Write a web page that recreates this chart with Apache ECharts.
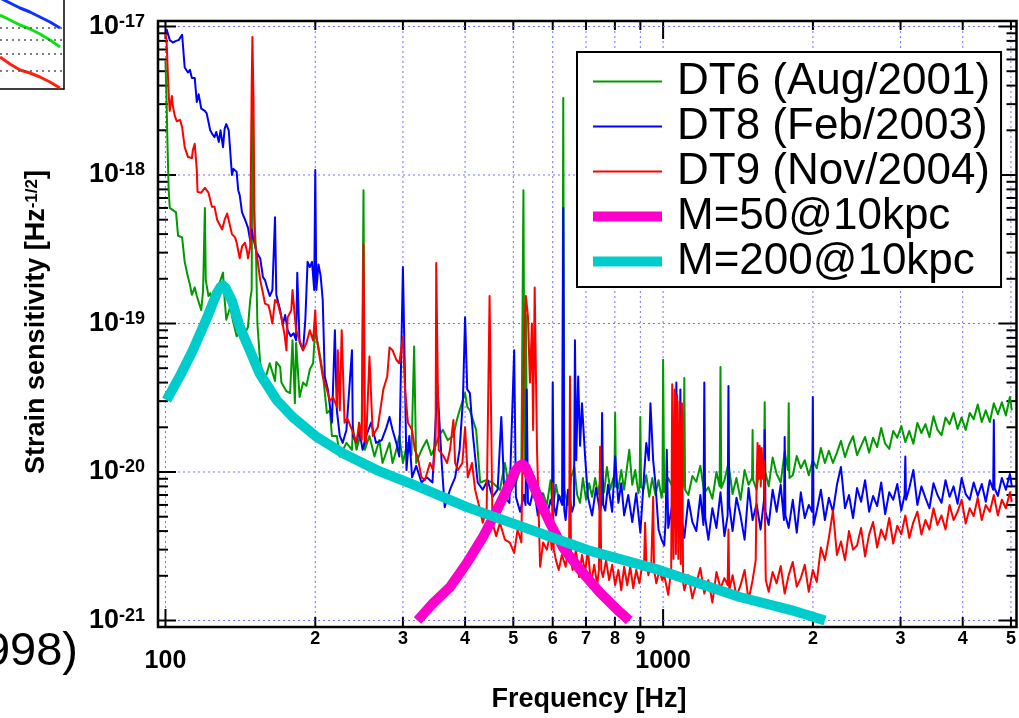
<!DOCTYPE html>
<html><head><meta charset="utf-8">
<script src="https://cdn.jsdelivr.net/npm/echarts@6/dist/echarts.min.js"></script>
<style>html,body{margin:0;padding:0;background:#fff}#c{width:1019px;height:718px}</style>
</head><body><div id="c"></div>
<script>
// ---------- data (frequency [Hz], strain [Hz^-1/2]) ----------
const dt6 = [[100,5.9e-18],[100.5,3.2e-18],[101,1.47e-18],[101.5,7.9e-19],[102,6.0e-19],[103.5,5.8e-19],[105,5.6e-19],[106,3.9e-19],[108,3.8e-19],[109.3,2.6e-19],[111,2.05e-19],[112,1.82e-19],[113,1.56e-19],[114.5,1.75e-19],[115.6,1.53e-19],[116.6,1.56e-19],[118,1.23e-19],[119,1.68e-19],[120,6.0e-19],[120.5,1.96e-19],[122,1.53e-19],[123,1.6e-19],[124.5,1.33e-19],[125.5,1.44e-19],[127,1.68e-19],[129,1.96e-19],[130.5,2.2e-19],[131.5,1.44e-19],[132.5,1.06e-19],[135,1.3e-19],[136.5,1.06e-19],[139,8.2e-20],[141,8.6e-20],[143,8.1e-20],[145,8.8e-20],[146.5,9.5e-20],[148,1.44e-19],[149,1.68e-19],[149.7,5.1e-18],[150.3,6.8e-19],[152,3.1e-19],[153,1.0e-19],[155,5.4e-20],[158.5,4.2e-20],[162,5.4e-20],[166,4.1e-20],[167,5.5e-20],[170,5.1e-20],[171,4.0e-20],[175,3.5e-20],[178,3.4e-20],[180,7.7e-20],[182,2.9e-20],[183,7.4e-20],[186,3.2e-20],[189,4.0e-20],[192,3.8e-20],[195,4.9e-20],[198,5.4e-20],[200,9.5e-20],[201,8.2e-20],[204,6.3e-20],[207,4.7e-20],[211,2.5e-20],[214,2.6e-20],[216,1.75e-20],[221,1.75e-20],[224,1.27e-20],[231,1.57e-20],[237,1.41e-20],[238,2.0e-20],[242,1.41e-20],[245,1.64e-20],[248,2.15e-20],[250,7.9e-19],[251.5,1.41e-20],[257,1.75e-20],[263,1.27e-20],[269,1.64e-20],[273,1.15e-20],[282,1.57e-20],[286,1.15e-20],[291,1.41e-20],[295,1.75e-20],[300,1.15e-20],[306,1.57e-20],[312,1.3e-20],[316,7.0e-20],[319,1.15e-20],[327,1.41e-20],[335,1.64e-20],[342,1.3e-20],[349,1.5e-20],[355,1.77e-20],[361,1.92e-20],[369,1.64e-20],[379,1.75e-20],[385,2.24e-20],[390,2.6e-20],[400,3.4e-20],[404,2.75e-20],[409,2.6e-20],[421,1.92e-20],[429,8.5e-21],[441,8.8e-21],[454,8.5e-21],[470,7.6e-21],[481,1.15e-20],[492,7.2e-21],[506,8.5e-21],[519,1.1e-20],[524,7.9e-19],[527,1.0e-20],[530,1.15e-19],[533,9.0e-21],[540,8.0e-21],[550,8.8e-21],[560,7.2e-21],[574,7.2e-21],[584,6.0e-21],[594,8.8e-21],[600,5.5e-21],[609,8.2e-21],[617,6.5e-21],[627,7.0e-21],[630,3.3e-18],[633,7.6e-21],[644,6.0e-21],[653,9.1e-21],[663,1.08e-20],[672,7.0e-21],[681,6.2e-21],[690,9.1e-21],[700,6.5e-21],[710,8.4e-21],[720,6.8e-21],[730,9.1e-21],[740,7.1e-21],[750,9.4e-21],[761,7.3e-21],[771,1.08e-20],[783,7.6e-21],[794,9.1e-21],[798,8.0e-21],[801,2.5e-20],[804,8.0e-21],[813,7.8e-21],[824,1.03e-20],[835,7.6e-21],[847,1.11e-20],[855,1.41e-20],[867,8.2e-21],[879,1.03e-20],[892,7.2e-21],[897,8.0e-21],[900,2.35e-20],[903,8.0e-21],[913,7.6e-21],[925,9.5e-21],[938,6.8e-21],[951,9.1e-21],[965,7.0e-21],[979,8.8e-21],[993,6.7e-21],[997,7.5e-21],[1000,5.7e-20],[1005,7.3e-21],[1024,9.1e-21],[1043,8.0e-21],[1063,1.03e-20],[1083,6.7e-21],[1099,8.3e-21],[1103,4.3e-20],[1107,7.6e-21],[1124,7.0e-21],[1145,9.4e-21],[1166,8.6e-21],[1188,1.1e-20],[1210,7.2e-21],[1233,7.9e-21],[1256,6.6e-21],[1280,1.0e-20],[1299,8.0e-21],[1304,5.1e-20],[1309,7.8e-21],[1328,8.8e-21],[1353,1.15e-20],[1379,7.1e-21],[1404,9.1e-21],[1431,6.5e-21],[1458,1.03e-20],[1485,8.2e-21],[1509,9.1e-21],[1513,1.92e-20],[1517,8.8e-21],[1541,7.6e-21],[1570,1.2e-20],[1595,9.4e-21],[1600,2.95e-20],[1605,1.0e-20],[1630,8.0e-21],[1660,1.25e-20],[1691,9.7e-21],[1723,8.5e-21],[1755,1.37e-20],[1782,1.03e-20],[1788,2.9e-20],[1794,9.1e-21],[1822,9.5e-21],[1856,1.28e-20],[1891,1.06e-20],[1926,1.2e-20],[1962,9.5e-21],[1999,1.2e-20],[2036,1.06e-20],[2075,1.45e-20],[2114,1.15e-20],[2153,1.39e-20],[2194,1.15e-20],[2235,1.35e-20],[2277,1.62e-20],[2320,1.26e-20],[2363,1.52e-20],[2408,1.74e-20],[2453,1.3e-20],[2499,1.5e-20],[2546,1.72e-20],[2594,1.35e-20],[2642,1.7e-20],[2692,1.47e-20],[2743,1.98e-20],[2794,1.55e-20],[2847,1.43e-20],[2900,1.89e-20],[2955,1.7e-20],[3010,2.04e-20],[3067,1.59e-20],[3124,1.89e-20],[3183,1.55e-20],[3243,2.14e-20],[3304,1.83e-20],[3366,2.1e-20],[3429,1.72e-20],[3494,2.37e-20],[3559,1.92e-20],[3626,1.77e-20],[3694,2.33e-20],[3764,2.1e-20],[3834,2.5e-20],[3906,1.95e-20],[3980,2.33e-20],[4055,1.92e-20],[4131,2.5e-20],[4208,2.27e-20],[4288,2.85e-20],[4368,2.17e-20],[4450,2.6e-20],[4534,2.17e-20],[4619,2.9e-20],[4706,2.45e-20],[4794,2.95e-20],[4884,2.4e-20],[4976,3.2e-20],[5020,2.6e-20]];

const dt8 = [[100.5,9.6e-18],[102,8.1e-18],[103.5,7.8e-18],[105,8.0e-18],[106.3,8.1e-18],[108,8.8e-18],[109.3,5.3e-18],[111,4.9e-18],[112,5.1e-18],[113,4.5e-18],[114.5,4.5e-18],[115.6,3.1e-18],[116.6,3.5e-18],[117,3.6e-18],[118,2.8e-18],[120,2.7e-18],[121,2.6e-18],[123,2.0e-18],[124.5,1.86e-18],[125.5,1.8e-18],[126.5,1.95e-18],[128,1.67e-18],[129,2.0e-18],[130.5,1.54e-18],[131.5,2.05e-18],[132.5,2.2e-18],[134,2.0e-18],[136,1.0e-18],[137,1.1e-18],[139,1.05e-18],[140,7.9e-19],[141,7.3e-19],[142.5,5.6e-19],[144.5,5.0e-19],[146.5,4.4e-19],[148,3.6e-19],[149,4.3e-19],[150,3.8e-19],[152.5,3.0e-19],[155,2.75e-19],[157,2.05e-19],[158.5,1.96e-19],[160,1.75e-19],[162,1.53e-19],[164,1.68e-19],[166,5.2e-19],[167,1.56e-19],[170,1.23e-19],[172,9.8e-20],[174,1.14e-19],[176,9.0e-20],[178.5,8.2e-20],[181,8.6e-20],[183,7.7e-20],[184,2.2e-19],[186,7.5e-20],[189,6.6e-20],[191,1.06e-19],[193,2.6e-19],[195,2.4e-19],[197,2.6e-19],[199,1.68e-19],[200,1.08e-18],[201,1.68e-19],[203,2.5e-19],[205,2.1e-19],[207,1.44e-19],[209,4.4e-20],[212,3.6e-20],[216,2.15e-20],[219,9.0e-20],[221,2.6e-20],[224,1.75e-20],[227,1.57e-20],[231,1.92e-20],[237,6.6e-20],[238,1.75e-20],[242,1.57e-20],[245,1.92e-20],[249,1.41e-20],[253,1.75e-20],[259,2.15e-20],[265,1.57e-20],[272,1.64e-20],[278,2.0e-20],[282,2.35e-20],[286,1.92e-20],[291,1.57e-20],[295,1.27e-20],[300,2.4e-19],[303,4.0e-20],[305,1.03e-20],[309,1.75e-20],[313,9.2e-21],[319,1.1e-20],[327,8.5e-21],[335,9.2e-21],[344,8.5e-21],[352,3.8e-20],[359,1.15e-20],[364,5.8e-21],[373,7.6e-21],[382,9.2e-21],[390,1.41e-20],[396,3.05e-20],[400,1.1e-19],[404,3.6e-20],[409,3.4e-20],[415,1.75e-20],[424,8.5e-21],[434,7.6e-21],[444,8.8e-21],[454,6.8e-21],[465,7.6e-21],[473,2.35e-20],[480,6.8e-21],[491,6.2e-21],[502,6.6e-20],[506,6.8e-21],[516,5.4e-21],[525,7.0e-21],[529,6.0e-21],[532,3.6e-20],[535,6.2e-21],[540,6.0e-21],[550,7.8e-21],[560,5.1e-21],[571,7.0e-21],[582,4.75e-21],[594,6.5e-21],[598,6.0e-21],[600,4.0e-20],[603,6.0e-21],[609,5.1e-21],[617,7.0e-21],[627,6.0e-21],[630,6.0e-19],[633,5.5e-21],[637,4.75e-21],[644,7.6e-21],[656,5.4e-21],[662,6.0e-21],[665,7.7e-20],[669,1.2e-20],[675,4.4e-20],[681,1.5e-20],[687,2.9e-20],[697,1.27e-20],[706,6.8e-21],[720,5.1e-21],[733,7.8e-21],[747,5.4e-21],[751,6.0e-21],[754,2.5e-20],[758,6.0e-21],[765,5.5e-21],[775,8.2e-21],[790,5.4e-21],[801,1.27e-20],[813,6.2e-21],[824,8.4e-21],[835,5.1e-21],[851,7.0e-21],[867,4.6e-21],[883,7.2e-21],[900,3.9e-21],[917,1.03e-20],[925,1.57e-20],[936,1.2e-20],[943,2.9e-20],[955,1.2e-20],[965,8.4e-21],[979,4.1e-21],[993,3.5e-21],[1005,3.2e-21],[1012,4.75e-21],[1017,1.41e-20],[1024,4.2e-21],[1043,6.0e-21],[1058,5.1e-21],[1063,4.0e-20],[1070,8.8e-21],[1078,6.5e-21],[1083,3.6e-20],[1090,4.75e-21],[1103,3.6e-21],[1124,6.5e-21],[1145,4.6e-21],[1166,4.0e-21],[1188,7.0e-21],[1205,4.4e-21],[1210,4.0e-20],[1215,4.9e-21],[1233,3.5e-21],[1256,5.7e-21],[1280,4.2e-21],[1304,7.3e-21],[1328,3.7e-21],[1348,5.1e-21],[1353,3.8e-20],[1358,6.0e-21],[1379,4.0e-21],[1404,6.7e-21],[1431,5.05e-21],[1458,3.5e-21],[1485,7.8e-21],[1513,4.75e-21],[1541,6.1e-21],[1570,4.1e-21],[1595,6.5e-21],[1600,1.92e-20],[1606,5.4e-21],[1630,4.4e-21],[1660,7.6e-21],[1691,5.4e-21],[1723,8.2e-21],[1749,4.75e-21],[1755,1.72e-20],[1761,5.1e-21],[1788,4.2e-21],[1822,6.5e-21],[1856,3.9e-21],[1891,7.3e-21],[1926,4.9e-21],[1962,6.0e-21],[1992,5.4e-21],[1999,3.2e-20],[2006,4.4e-21],[2036,5.5e-21],[2075,7.6e-21],[2114,4.75e-21],[2153,6.7e-21],[2194,5.4e-21],[2235,8.2e-21],[2277,1.08e-20],[2320,5.7e-21],[2363,7.0e-21],[2408,4.9e-21],[2453,7.8e-21],[2499,6.3e-21],[2546,8.8e-21],[2594,5.4e-21],[2642,6.9e-21],[2692,5.9e-21],[2743,8.5e-21],[2794,5.2e-21],[2847,7.3e-21],[2900,6.5e-21],[2955,8.3e-21],[3010,5.5e-21],[3057,7.0e-21],[3067,1.27e-20],[3077,6.5e-21],[3124,7.8e-21],[3183,1.03e-20],[3243,6.0e-21],[3304,8.0e-21],[3366,6.7e-21],[3429,5.7e-21],[3494,8.4e-21],[3559,7.0e-21],[3626,6.2e-21],[3694,8.8e-21],[3764,6.8e-21],[3834,8.0e-21],[3906,6.1e-21],[3980,9.1e-21],[4055,7.1e-21],[4131,6.5e-21],[4208,8.5e-21],[4288,6.9e-21],[4368,8.3e-21],[4450,6.3e-21],[4534,8.8e-21],[4605,7.6e-21],[4619,2.24e-20],[4633,7.8e-21],[4706,6.9e-21],[4794,9.1e-21],[4884,7.6e-21],[4976,9.7e-21],[5020,8.0e-21]];

const dt9 = [[100,8.9e-18],[100.5,8.1e-18],[101.5,3.5e-18],[102,2.7e-18],[103,3.4e-18],[103.5,2.9e-18],[104.4,2.5e-18],[105.4,2.3e-18],[107,2.35e-18],[108,2.1e-18],[109.3,1.54e-18],[111,1.32e-18],[113,1.3e-18],[113.5,1.47e-18],[114.5,1.62e-18],[115.6,1.08e-18],[116,7.7e-19],[118,7.6e-19],[120,8.2e-19],[122,7.6e-19],[124,6.1e-19],[125.5,6.1e-19],[127,5.0e-19],[130,4.3e-19],[131.5,5.0e-19],[133,5.5e-19],[136,4.0e-19],[138,3.8e-19],[139,3.5e-19],[141,2.75e-19],[142.5,3.3e-19],[144.5,3.5e-19],[146,3.0e-19],[146.5,2.75e-19],[148,3.3e-19],[149,3.9e-18],[149.5,8.5e-18],[150.3,3.2e-18],[151,3.6e-19],[152.5,2.95e-19],[155,1.96e-19],[157,1.6e-19],[158.5,1.36e-19],[161,1.33e-19],[162,1.23e-19],[164,1.0e-19],[166,1.44e-19],[168,1.38e-19],[171,1.1e-19],[173.5,8.4e-20],[175,6.6e-20],[176,1.1e-19],[179,1.23e-19],[180,1.68e-19],[183,9.0e-20],[186,7.7e-20],[189,6.6e-20],[192,7.4e-20],[195,9.0e-20],[198,7.7e-20],[200,1.23e-19],[201,8.2e-20],[204,6.0e-20],[207,4.4e-20],[211,3.6e-20],[214,3.0e-20],[217,3.2e-20],[221,2.75e-20],[222,6.6e-20],[224,2.6e-20],[226,9.0e-20],[229,2.15e-20],[232,2.3e-20],[237,1.92e-20],[242,1.57e-20],[245,2.15e-20],[248,1.64e-20],[250,3.4e-19],[251.5,1.64e-20],[253,1.57e-20],[257,6.0e-20],[261,1.75e-20],[267,2.0e-20],[274,3.6e-20],[279,4.4e-20],[282,6.9e-20],[286,6.6e-20],[291,5.7e-20],[295,5.4e-20],[300,8.1e-20],[303,3.6e-20],[307,2.15e-20],[313,1.92e-20],[317,1.41e-20],[321,1.27e-20],[327,9.2e-21],[332,8.8e-21],[340,1.15e-20],[345,1.03e-20],[349,1.64e-20],[350,2.55e-19],[354,1.41e-20],[361,1.3e-20],[368,1.15e-20],[373,1.41e-20],[379,2.24e-20],[382,1.15e-20],[387,1.03e-20],[395,1.15e-20],[400,2.0e-20],[405,9.2e-21],[413,1.15e-20],[419,7.6e-21],[429,5.5e-21],[434,4.55e-21],[442,5.5e-21],[448,1.53e-19],[454,4.55e-21],[462,3.7e-21],[470,4.55e-21],[481,3.5e-21],[492,3.35e-21],[502,2.85e-21],[510,4.1e-21],[519,3.35e-21],[525,6.6e-20],[530,1.53e-19],[535,1.12e-19],[540,4.0e-20],[545,1.0e-19],[548,1.92e-20],[552,1.75e-19],[558,1.41e-20],[566,2.3e-21],[574,3.35e-21],[584,3.0e-21],[594,3.9e-21],[597,3.0e-21],[600,8.4e-21],[603,3.0e-21],[609,2.55e-21],[617,2.19e-21],[626,2.76e-21],[637,2.3e-21],[644,3.1e-21],[647,2.5e-21],[650,4.4e-20],[653,2.5e-21],[658,2.19e-21],[668,3.0e-21],[678,1.96e-21],[687,2.76e-21],[697,2.12e-21],[706,3.0e-21],[716,1.78e-21],[727,2.37e-21],[737,1.73e-21],[743,2.2e-21],[747,1.48e-20],[751,2.2e-21],[757,1.96e-21],[768,2.55e-21],[779,1.87e-21],[790,2.37e-21],[801,1.73e-21],[813,2.19e-21],[824,1.6e-21],[835,2.3e-21],[847,1.73e-21],[859,2.3e-21],[871,1.65e-21],[883,2.19e-21],[896,1.78e-21],[908,2.37e-21],[916,2.5e-21],[920,4.55e-21],[925,2.5e-21],[934,2.02e-21],[947,2.44e-21],[952,2.5e-21],[955,6.8e-21],[959,2.2e-21],[969,1.78e-21],[983,2.19e-21],[996,1.87e-21],[1005,2.02e-21],[1024,1.49e-21],[1038,2.2e-21],[1043,3.9e-20],[1049,2.6e-21],[1055,3.6e-20],[1061,2.8e-21],[1067,3.3e-20],[1073,2.6e-21],[1079,3.0e-20],[1085,2.4e-21],[1091,2.9e-20],[1097,1.8e-21],[1103,1.6e-21],[1124,2.02e-21],[1145,1.41e-21],[1166,1.78e-21],[1188,2.26e-21],[1210,1.52e-21],[1233,1.87e-21],[1256,1.32e-21],[1280,2.12e-21],[1304,1.65e-21],[1328,1.93e-21],[1348,1.73e-21],[1353,4.1e-21],[1358,1.6e-21],[1379,2.02e-21],[1404,1.46e-21],[1431,1.73e-21],[1458,2.19e-21],[1485,1.37e-21],[1513,1.87e-21],[1535,2.55e-21],[1541,8.5e-21],[1548,1.57e-20],[1556,9.0e-21],[1563,1.5e-20],[1571,8.0e-21],[1578,1.45e-20],[1586,9.0e-21],[1593,1.2e-20],[1600,7.0e-21],[1608,1.87e-21],[1630,1.56e-21],[1660,2.12e-21],[1691,1.78e-21],[1723,2.33e-21],[1755,1.52e-21],[1788,2.02e-21],[1822,2.48e-21],[1856,1.69e-21],[1891,1.93e-21],[1926,2.37e-21],[1962,1.56e-21],[1999,2.19e-21],[2036,1.82e-21],[2075,3.1e-21],[2114,2.55e-21],[2153,3.6e-21],[2194,5.5e-21],[2235,2.76e-21],[2277,3.4e-21],[2320,2.55e-21],[2363,4.0e-21],[2408,3.0e-21],[2453,3.2e-21],[2499,4.2e-21],[2546,2.7e-21],[2594,3.8e-21],[2642,4.6e-21],[2692,3.1e-21],[2743,4.1e-21],[2794,3.5e-21],[2847,4.9e-21],[2900,3.3e-21],[2955,4.35e-21],[3010,3.8e-21],[3067,5.1e-21],[3124,3.6e-21],[3183,4.6e-21],[3243,5.4e-21],[3304,3.8e-21],[3366,4.75e-21],[3429,4.1e-21],[3494,5.7e-21],[3559,4.4e-21],[3626,5.1e-21],[3694,4.1e-21],[3764,6.0e-21],[3834,4.75e-21],[3906,5.4e-21],[3980,6.5e-21],[4055,4.5e-21],[4131,5.7e-21],[4208,5.05e-21],[4288,6.7e-21],[4368,4.75e-21],[4450,6.0e-21],[4534,5.4e-21],[4619,7.0e-21],[4706,5.1e-21],[4794,6.5e-21],[4884,5.7e-21],[4976,7.3e-21],[5020,6.3e-21]];

const m50 = [[321,1.0e-21],[345,1.31e-21],[373,1.68e-21],[403.5,2.44e-21],[434.5,3.65e-21],[463,5.5e-21],[485,7.6e-21],[503,1.0e-20],[514,1.1e-20],[522,1.13e-20],[530,1.07e-20],[545,8.6e-21],[566,6.3e-21],[593,4.5e-21],[629,3.1e-21],[681,2.2e-21],[748,1.53e-21],[809,1.18e-21],[855,1.0e-21]];

const m200 = [[100.5,3.05e-20],[106.8,4.4e-20],[113.5,6.6e-20],[121,1.08e-19],[126.8,1.6e-19],[129,1.76e-19],[130.5,1.8e-19],[132,1.74e-19],[136,1.42e-19],[141,9.5e-20],[147.7,6.6e-20],[154.6,4.6e-20],[167.3,3.05e-20],[180.2,2.34e-20],[201.5,1.72e-20],[227,1.34e-20],[265.7,1.03e-20],[324,7.9e-21],[403.5,5.8e-21],[522,4.27e-21],[705,2.98e-21],[981,2.19e-21],[1425,1.44e-21],[1800,1.18e-21],[2115,1.0e-21]];

const seriesNames = ['DT6 (Aug/2001)','DT8 (Feb/2003)','DT9 (Nov/2004)','M=50@10kpc','M=200@10kpc'];
const xTickValues = [100,200,300,400,500,600,700,800,900,1000,2000,3000,4000,5000];
const xTickLabels = ['100','2','3','4','5','6','7','8','9','1000','2','3','4','5'];
const yTickValues = [1e-21,2e-21,3e-21,4e-21,5e-21,6e-21,7e-21,8e-21,9e-21,
  1e-20,2e-20,3e-20,4e-20,5e-20,6e-20,7e-20,8e-20,9e-20,
  1e-19,2e-19,3e-19,4e-19,5e-19,6e-19,7e-19,8e-19,9e-19,
  1e-18,2e-18,3e-18,4e-18,5e-18,6e-18,7e-18,8e-18,9e-18,1e-17];

// fragment of the neighbouring figure (top-left corner)
const fragX = [0,1,2,3,4,5,6];
const fragBlue = [9.1,8.6,8.1,7.7,7.2,6.7,6.1];
const fragGreen = [7.4,6.9,6.4,6.0,5.5,4.9,4.2];
const fragRed = [3.2,2.5,1.9,1.6,1.2,0.7,0.1];
const fragGrid = [6.1,4.9,3.5,1.8];

// ---------- chart ----------
const FONT = '"Liberation Sans", Arial, Helvetica, sans-serif';
const GRIDC = '#7373ff';
const chart = echarts.init(document.getElementById('c'), null, {renderer:'canvas'});

function isDecade(v){const l=Math.log10(v);return Math.abs(l-Math.round(l))<1e-6;}

const xTickSeries = {
  type:'custom', coordinateSystem:'cartesian2d', xAxisIndex:0, yAxisIndex:0, silent:true, z:1,
  data: xTickValues.map((v,i)=>[v,1e-19,i]),
  renderItem:(params, api)=>{
    const v=api.value(0), i=api.value(2);
    const cs=params.coordSys;
    const x=api.coord([v,1e-19])[0];
    const top=cs.y, bot=cs.y+cs.height;
    const major=(v===100||v===1000);
    return {type:'group', children:[
      {type:'line', shape:{x1:x,y1:top,x2:x,y2:bot}, style:{stroke:GRIDC,lineWidth:1,lineDash:[2,3]}},
      {type:'line', shape:{x1:x,y1:bot,x2:x,y2:bot-(major?18:10)}, style:{stroke:'#000',lineWidth:2}},
      {type:'line', shape:{x1:x,y1:top,x2:x,y2:top+(major?18:9)}, style:{stroke:'#000',lineWidth:2}},
      {type:'text', style:{text:xTickLabels[i], x:x, y: major? bot+34 : bot+12, fill:'#000',
        font: major? 'bold 25px '+FONT : 'bold 18px '+FONT, align:'center', verticalAlign:'middle',
        textAlign:'center', textVerticalAlign:'middle'}}
    ]};
  }
};
const yTickSeries = {
  type:'custom', coordinateSystem:'cartesian2d', xAxisIndex:0, yAxisIndex:0, silent:true, z:1,
  data: yTickValues.map(v=>[1000,v]),
  renderItem:(params, api)=>{
    const v=api.value(1);
    const cs=params.coordSys;
    const y=api.coord([1000,v])[1];
    const left=cs.x, right=cs.x+cs.width;
    const major=isDecade(v);
    const ch=[
      {type:'line', shape:{x1:left,y1:y,x2:left+(major?18:10),y2:y}, style:{stroke:'#000',lineWidth:2}},
      {type:'line', shape:{x1:right,y1:y,x2:right-(major?18:10),y2:y}, style:{stroke:'#000',lineWidth:2}}
    ];
    if(major) ch.unshift({type:'line', shape:{x1:left,y1:y,x2:right,y2:y}, style:{stroke:GRIDC,lineWidth:1,lineDash:[2,3]}});
    return {type:'group', children:ch};
  }
};

function lineSeries(name, data, color, width, z){
  return {name, type:'line', data, xAxisIndex:0, yAxisIndex:0, showSymbol:false, symbol:'none',
    lineStyle:{color, width, join:'round'}, itemStyle:{color}, z, animation:false, silent:true};
}
const fragLine = (vals,color)=>({type:'line', xAxisIndex:1, yAxisIndex:1, data:fragX.map((x,i)=>[x,vals[i]]),
  symbol:'none', lineStyle:{color,width:3}, silent:true});

const option = {
  animation:false,
  backgroundColor:'#fff',
  grid:[
    {left:158, top:21, right:2.5, bottom:91, show:true, borderColor:'#000', borderWidth:2.5, backgroundColor:'transparent'},
    {left:0, top:0, width:64, height:89}
  ],
  xAxis:[
    {type:'log', gridIndex:0, min:96.6, max:5130, axisLine:{show:false}, axisTick:{show:false}, axisLabel:{show:false}, splitLine:{show:false}},
    {type:'value', gridIndex:1, min:0, max:6.4, axisLine:{show:true, lineStyle:{color:'#000', width:1.5}}, axisTick:{show:false}, axisLabel:{show:false}, splitLine:{show:false}}
  ],
  yAxis:[
    {type:'log', gridIndex:0, min:9.04e-22, max:1.089e-17, axisLine:{show:false}, axisTick:{show:false}, splitLine:{show:false},
      axisLabel:{show:true, margin:13, showMinLabel:false, showMaxLabel:false,
        formatter:(v)=>'{b|10}{s|'+Math.round(Math.log10(v))+'}',
        rich:{b:{fontSize:27, fontWeight:'bold', fontFamily:FONT, color:'#000', verticalAlign:'bottom', lineHeight:27},
              s:{fontSize:18, fontWeight:'bold', fontFamily:FONT, color:'#000', verticalAlign:'top', lineHeight:18}}}},
    {type:'value', gridIndex:1, min:0, max:8.9, position:'right', axisLine:{show:true, onZero:false, lineStyle:{color:'#000', width:1.5}}, axisTick:{show:false}, axisLabel:{show:false}, splitLine:{show:false}}
  ],
  legend:{
    orient:'vertical', left:577, top:52, selectedMode:false,
    data: seriesNames.map((n,i)=>({name:n, lineStyle:{width: i>=3?10:2}, itemStyle:{opacity:0}})),
    backgroundColor:'#fff', borderColor:'#000', borderWidth:2,
    padding:[7,11,3,11], itemWidth:69, itemHeight:12, itemGap:0,
    textStyle:{fontSize:44, fontFamily:FONT, color:'#000', lineHeight:45, padding:[0,0,0,10]}
  },
  graphic:[
    {type:'text', x:37, y:322, rotation:Math.PI/2, silent:true,
      style:{text:'{t|Strain sensitivity [Hz}{s|-1/2}{t|]}', align:'center', verticalAlign:'middle',
        rich:{t:{fontSize:27, fontWeight:'bold', fontFamily:FONT, fill:'#000', verticalAlign:'bottom', lineHeight:27},
              s:{fontSize:17, fontWeight:'bold', fontFamily:FONT, fill:'#000', verticalAlign:'top', lineHeight:17}}}},
    {type:'text', x:589, y:700, silent:true,
      style:{text:'Frequency [Hz]', font:'bold 27px '+FONT, fill:'#000', align:'center', verticalAlign:'middle'}},
    {type:'text', x:78, y:652, silent:true,
      style:{text:'(1998)', font:'47px '+FONT, fill:'#000', align:'right', verticalAlign:'middle'}}
  ],
  series:[
    xTickSeries, yTickSeries,
    lineSeries(seriesNames[0], dt6, '#009a00', 2, 2),
    lineSeries(seriesNames[1], dt8, '#0000ff', 2, 2),
    lineSeries(seriesNames[2], dt9, '#ff0000', 2, 2),
    lineSeries(seriesNames[3], m50, '#ff00cc', 10, 3),
    lineSeries(seriesNames[4], m200, '#00cccc', 10, 3),
    {type:'line', xAxisIndex:1, yAxisIndex:1, data:[], symbol:'none',
      markLine:{silent:true, symbol:'none', label:{show:false}, lineStyle:{color:'#555', type:[2,4], width:1.5},
        data: fragGrid.map(v=>({yAxis:v}))}},
    fragLine(fragBlue,'#1030ff'), fragLine(fragGreen,'#10e010'), fragLine(fragRed,'#ff2010')
  ]
};
chart.setOption(option);
</script></body></html>
